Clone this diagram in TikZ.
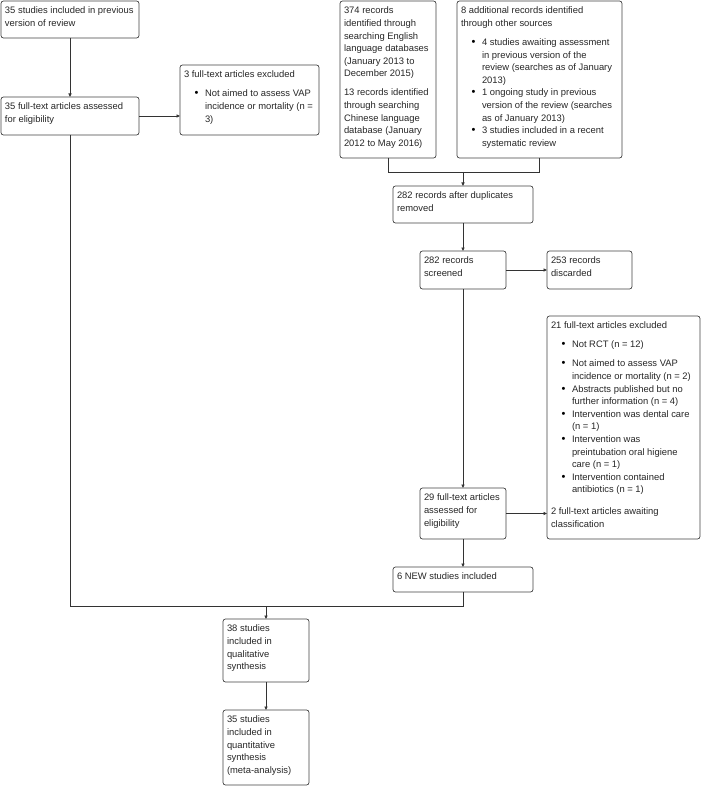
\documentclass[tikz,border=0pt]{standalone}
\usepackage{fontspec}
\setmainfont{Liberation Sans}
\usetikzlibrary{arrows.meta, positioning}
\tikzset{
  box/.style={rectangle, draw=black!75, rounded corners=2.5pt, line width=0.7pt,
              anchor=north west, inner xsep=4pt, inner ysep=4pt, outer sep=0pt,
              font=\fontsize{9.4}{12.6}\selectfont, text=black!85},
  link/.style={draw=black!80, line width=0.7pt},
  arr/.style={link, -{Triangle[length=3.5pt, width=3.2pt]}},
}
\newcommand{\boxtext}[3]{\parbox[t][#2][t]{#1}{\raggedright\strut #3}}
\newcommand{\bitem}[1]{\par\hangindent=21pt\hangafter=1\hspace*{10.5pt}\makebox[10.5pt][l]{\color{black}\fontsize{11}{12.6}\selectfont\textbullet}{\let\\\newline #1}}
\newcommand{\gap}[1][6.4pt]{\par\vspace{#1}}

\begin{document}
\begin{tikzpicture}[x=1pt, y=-1pt]
  \useasboundingbox (0,0) rectangle (701,786);

  \node[box] (prev) at (1,1) {\boxtext{130pt}{29pt}{35 studies included in previous\\version of review}};
  \node[box] (assess) at (1,97) {\boxtext{130pt}{30pt}{35 full-text articles assessed\\for eligibility}};
  \node[box] (excl) at (180,65) {\boxtext{131pt}{62pt}{3 full-text articles excluded\gap
    \bitem{Not aimed to assess VAP\\incidence or mortality (n =\\3)}}};
  \node[box] (english) at (340,1) {\boxtext{88pt}{149pt}{374 records\\identified through\\searching English\\language databases\\(January 2013 to\\December 2015)\gap
    13 records identified\\through searching\\Chinese language\\database (January\\2012 to May 2016)}};
  \node[box] (other) at (457,1) {\boxtext{157pt}{149pt}{8 additional records identified\\through other sources\gap
    \bitem{4 studies awaiting assessment\\in previous version of the\\review (searches as of January\\2013)}
    \bitem{1 ongoing study in previous\\version of the review (searches\\as of January 2013)}
    \bitem{3 studies included in a recent\\systematic review}}};
  \node[box] (dupl) at (393,186) {\boxtext{132pt}{29pt}{282 records after duplicates\\removed}};
  \node[box] (screened) at (420,251) {\boxtext{78pt}{30pt}{282 records\\screened}};
  \node[box, right=41pt of screened] (discard) {\boxtext{77pt}{30pt}{253 records\\discarded}};
  \node[box] (ftexcl) at (547,316) {\boxtext{145pt}{215pt}{21 full-text articles excluded\gap
    \bitem{Not RCT (n = 12)}\gap
    \bitem{Not aimed to assess VAP\\incidence or mortality (n = 2)}
    \bitem{Abstracts published but no\\further information (n = 4)}
    \bitem{Intervention was dental care\\(n = 1)}
    \bitem{Intervention was\\preintubation oral higiene\\care (n = 1)}
    \bitem{Intervention contained\\antibiotics (n = 1)}\gap[9.4pt]
    2 full-text articles awaiting\\classification}};
  \node[box] (ftassess) at (420,488) {\boxtext{78pt}{43pt}{29 full-text articles\\assessed for\\eligibility}};
  \node[box] (newinc) at (393,567) {\boxtext{132pt}{17pt}{6 NEW studies included}};
  \node[box] (qual) at (223,619) {\boxtext{78pt}{55pt}{38 studies\\included in\\qualitative\\synthesis}};
  \node[box, below=28pt of qual] (quant) {\boxtext{78pt}{67pt}{35 studies\\included in\\quantitative\\synthesis\\(meta-analysis)}};

  \coordinate (dupjoin) at (463,172);
  \coordinate (incjoin) at (266,606);

  \draw[arr] (prev) -- (assess);
  \draw[arr] (assess.east) -- (assess.east -| excl.west);
  \draw[link] (english.south) |- (dupjoin);
  \draw[link] (other.south) |- (dupjoin);
  \draw[arr] (dupjoin) -- (dupl);
  \draw[arr] (dupl) -- (screened);
  \draw[arr] (screened) -- (discard);
  \draw[arr] (screened) -- (ftassess);
  \draw[arr] (ftassess.east) -- (ftassess.east -| ftexcl.west);
  \draw[arr] (ftassess) -- (newinc);
  \draw[link] (assess.south) |- (incjoin);
  \draw[link] (newinc.south) |- (incjoin);
  \draw[arr] (incjoin) -- (qual);
  \draw[arr] (qual) -- (quant);
\end{tikzpicture}
\end{document}
